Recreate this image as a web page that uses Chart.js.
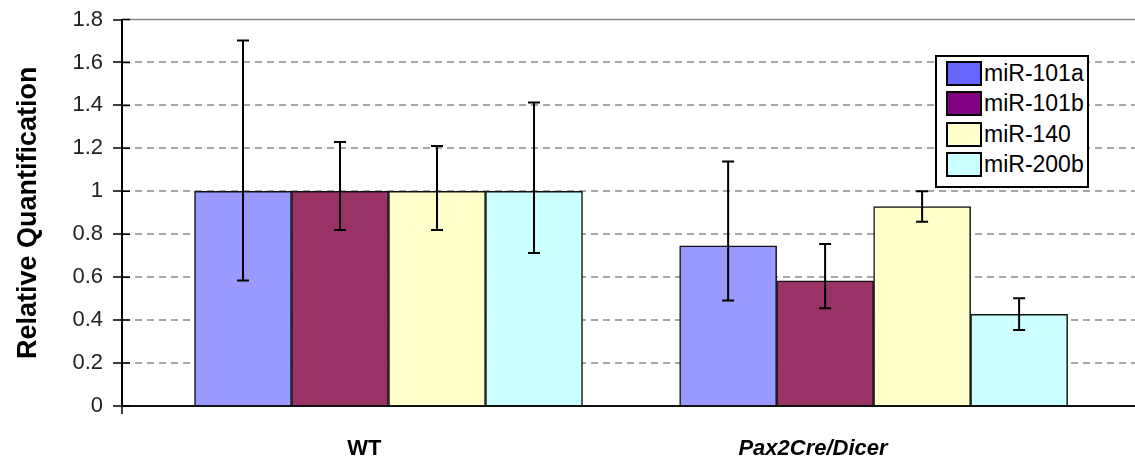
<!DOCTYPE html>
<html>
<head>
<meta charset="utf-8">
<script src="https://cdn.jsdelivr.net/npm/chart.js@4.4.1/dist/chart.umd.min.js"></script>
<style>
  html, body { margin: 0; padding: 0; background: #fff; }
  #wrap { position: relative; width: 1135px; height: 464px; }
  #legend {
    position: absolute; left: 935px; top: 55px; width: 150px; height: 129px;
    border: 2px solid #000; background: #fff;
    font-family: "Liberation Sans", Arial, sans-serif; font-size: 23px; color: #000;
  }
  .item { position: absolute; left: 9px; height: 24px; display: flex; align-items: center; }
  .sw { width: 32px; height: 21px; border: 2px solid #000; margin-right: 2px; }
</style>
</head>
<body>
<div id="wrap">
  <canvas id="chart" width="1135" height="464"></canvas>
  <div id="legend"></div>
</div>
<script>
// categories and series
const groups = ["WT", "Pax2Cre/Dicer"];
const series = ["miR-101a", "miR-101b", "miR-140", "miR-200b"];

// relative quantification, [WT, Pax2Cre/Dicer]
const mir101a = [1.00, 0.746];
const mir101b = [1.00, 0.583];
const mir140  = [1.00, 0.929];
const mir200b = [1.00, 0.427];

// error bar ranges [low, high]
const mir101aErr = [[0.584, 1.702], [0.491, 1.139]];
const mir101bErr = [[0.820, 1.230], [0.455, 0.755]];
const mir140Err  = [[0.820, 1.211], [0.858, 1.000]];
const mir200bErr = [[0.712, 1.413], [0.354, 0.502]];

const yTicks = [0, 0.2, 0.4, 0.6, 0.8, 1, 1.2, 1.4, 1.6, 1.8];

const values = [mir101a, mir101b, mir140, mir200b];
const errors = [mir101aErr, mir101bErr, mir140Err, mir200bErr];
const barColors = ["#9999FF", "#993366", "#FFFFCC", "#CCFFFF"];
const legendColors = ["#6666FF", "#800080", "#FFFFCC", "#CCFFFF"];

const FONT = "'Liberation Sans', Arial, sans-serif";

// legend
const leg = document.getElementById("legend");
series.forEach((s, i) => {
  const row = document.createElement("div");
  row.className = "item";
  row.style.top = (4 + i * 30.5) + "px";
  row.innerHTML = `<span class="sw" style="background:${legendColors[i]}"></span><span>${s}</span>`;
  leg.appendChild(row);
});

// error bars + frame details
const extras = {
  id: "extras",
  beforeDatasetsDraw(chart) {
    const { ctx, chartArea: a, scales: { y } } = chart;
    ctx.save();
    ctx.strokeStyle = "#888";
    ctx.lineWidth = 1.5;
    const top = y.getPixelForValue(yTicks[yTicks.length - 1]);
    ctx.beginPath();
    ctx.moveTo(a.left, top);
    ctx.lineTo(a.right, top);
    ctx.stroke();
    ctx.restore();
  },
  afterDatasetsDraw(chart) {
    const { ctx, chartArea: a, scales: { y } } = chart;
    ctx.save();
    ctx.strokeStyle = "#000";
    ctx.lineWidth = 2;
    errors.forEach((errs, d) => {
      const meta = chart.getDatasetMeta(d);
      meta.data.forEach((bar, i) => {
        const lo = y.getPixelForValue(errs[i][0]);
        const hi = y.getPixelForValue(errs[i][1]);
        ctx.beginPath();
        ctx.moveTo(bar.x, lo); ctx.lineTo(bar.x, hi);
        ctx.moveTo(bar.x - 6, lo); ctx.lineTo(bar.x + 6, lo);
        ctx.moveTo(bar.x - 6, hi); ctx.lineTo(bar.x + 6, hi);
        ctx.stroke();
      });
    });
    // inner half of the crossing ticks, axis stub below the x axis
    ctx.lineWidth = 1.5;
    ctx.beginPath();
    yTicks.forEach(v => {
      const p = y.getPixelForValue(v);
      ctx.moveTo(a.left, p); ctx.lineTo(a.left + 8, p);
    });
    ctx.moveTo(a.left, a.bottom); ctx.lineTo(a.left, a.bottom + 8);
    ctx.stroke();
    ctx.restore();
  }
};

new Chart(document.getElementById("chart"), {
  type: "bar",
  data: {
    datasets: series.map((s, d) => ({
      label: s,
      data: values[d].map((v, i) => ({ x: i, y: v })),
      backgroundColor: barColors[d],
      borderColor: "#111",
      borderWidth: 1.5,
      barThickness: 97
    }))
  },
  options: {
    responsive: false,
    animation: false,
    devicePixelRatio: 1,
    layout: { padding: { top: 19.5, right: 0, left: 0, bottom: 0 } },
    plugins: { legend: { display: false }, tooltip: { enabled: false } },
    scales: {
      x: {
        type: "linear",
        offset: false,
        min: -0.5494,
        max: 1.5388,
        afterBuildTicks: ax => { ax.ticks = [-0.050, 0.875].map(v => ({ value: v })); },
        afterFit: ax => { ax.height = 58; ax.paddingLeft = 0; ax.paddingRight = 0; },
        grid: { display: false, drawTicks: false },
        border: { color: "#111", width: 2 },
        ticks: {
          autoSkip: false,
          maxRotation: 0,
          padding: 30,
          color: "#000",
          callback: (v, i) => groups[i],
          font: c => ({ family: FONT, size: 22, weight: "bold", style: c.index === 1 ? "italic" : "normal" })
        }
      },
      y: {
        min: 0,
        max: 1.8,
        afterBuildTicks: ax => { ax.ticks = yTicks.map(v => ({ value: v })); },
        afterFit: ax => { ax.width = 122; ax.paddingTop = 0; ax.paddingBottom = 0; },
        grid: {
          color: c => (c.tick && (c.tick.value === 0 || c.tick.value >= 1.8)) ? "rgba(0,0,0,0)" : "#a6a6a6",
          lineWidth: 2,
          tickLength: 9,
          tickColor: "#000",
          tickWidth: 1.5,
          tickBorderDash: []
        },
        border: { color: "#000", width: 2, dash: [7, 5] },
        ticks: {
          padding: 10,
          color: "#222",
          font: { family: FONT, size: 22 },
          callback: v => String(Number(v.toFixed(1)))
        },
        title: {
          display: true,
          text: "Relative Quantification",
          color: "#000",
          font: { family: FONT, size: 27, weight: "bold" },
          padding: { top: 12, bottom: 0 }
        }
      }
    }
  },
  plugins: [extras]
});
</script>
</body>
</html>
